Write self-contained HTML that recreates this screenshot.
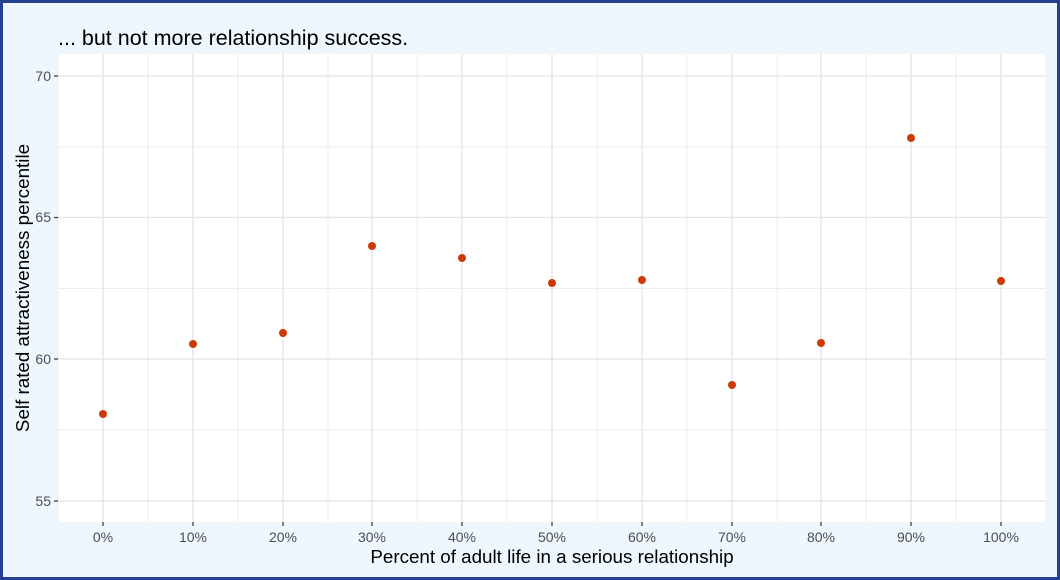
<!DOCTYPE html><html><head><style>body{margin:0}svg{display:block}</style></head><body>
<svg width="1060" height="580" xmlns="http://www.w3.org/2000/svg" font-family="Liberation Sans, sans-serif">
<rect x="0" y="0" width="1060" height="580" fill="#24408E"/>
<rect x="3" y="3" width="1054" height="574" fill="#EEF6FE"/>
<rect x="58" y="54" width="988" height="468" fill="#fff"/>
<g stroke="#ececec" stroke-width="1">
<line x1="58" x2="1046" y1="147" y2="147"/><line x1="58" x2="1046" y1="288.5" y2="288.5"/><line x1="58" x2="1046" y1="430" y2="430"/>
<line x1="148" x2="148" y1="54" y2="522"/><line x1="238" x2="238" y1="54" y2="522"/><line x1="328" x2="328" y1="54" y2="522"/><line x1="417" x2="417" y1="54" y2="522"/><line x1="507" x2="507" y1="54" y2="522"/><line x1="597" x2="597" y1="54" y2="522"/><line x1="687" x2="687" y1="54" y2="522"/><line x1="777" x2="777" y1="54" y2="522"/><line x1="866" x2="866" y1="54" y2="522"/><line x1="956" x2="956" y1="54" y2="522"/><line x1="1046" x2="1046" y1="54" y2="522"/><line x1="58" x2="58" y1="54" y2="522"/>
</g>
<g stroke="#e3e3e3" stroke-width="1.3">
<line x1="58" x2="1046" y1="76" y2="76"/><line x1="58" x2="1046" y1="217.5" y2="217.5"/><line x1="58" x2="1046" y1="359" y2="359"/><line x1="58" x2="1046" y1="501" y2="501"/>
<line x1="103" x2="103" y1="54" y2="522"/><line x1="193" x2="193" y1="54" y2="522"/><line x1="283" x2="283" y1="54" y2="522"/><line x1="372" x2="372" y1="54" y2="522"/><line x1="462" x2="462" y1="54" y2="522"/><line x1="552" x2="552" y1="54" y2="522"/><line x1="642" x2="642" y1="54" y2="522"/><line x1="732" x2="732" y1="54" y2="522"/><line x1="821" x2="821" y1="54" y2="522"/><line x1="911" x2="911" y1="54" y2="522"/><line x1="1001" x2="1001" y1="54" y2="522"/>
</g>
<g stroke="#333" stroke-width="1.2">
<line x1="54" x2="58" y1="76" y2="76"/><line x1="54" x2="58" y1="217.5" y2="217.5"/><line x1="54" x2="58" y1="359" y2="359"/><line x1="54" x2="58" y1="501" y2="501"/>
<line x1="103" x2="103" y1="522" y2="526"/><line x1="193" x2="193" y1="522" y2="526"/><line x1="283" x2="283" y1="522" y2="526"/><line x1="372" x2="372" y1="522" y2="526"/><line x1="462" x2="462" y1="522" y2="526"/><line x1="552" x2="552" y1="522" y2="526"/><line x1="642" x2="642" y1="522" y2="526"/><line x1="732" x2="732" y1="522" y2="526"/><line x1="821" x2="821" y1="522" y2="526"/><line x1="911" x2="911" y1="522" y2="526"/><line x1="1001" x2="1001" y1="522" y2="526"/>
</g>
<g fill="#4d4d4d" font-size="14" text-anchor="end">
<text x="51" y="81">70</text><text x="51" y="222">65</text><text x="51" y="364">60</text><text x="51" y="506">55</text>
</g>
<g fill="#4d4d4d" font-size="14" text-anchor="middle">
<text x="103" y="542">0%</text><text x="193" y="542">10%</text><text x="283" y="542">20%</text><text x="372" y="542">30%</text><text x="462" y="542">40%</text><text x="552" y="542">50%</text><text x="642" y="542">60%</text><text x="732" y="542">70%</text><text x="821" y="542">80%</text><text x="911" y="542">90%</text><text x="1001" y="542">100%</text>
</g>
<text x="552" y="563" font-size="18.8" text-anchor="middle" fill="#000">Percent of adult life in a serious relationship</text>
<text transform="translate(29,288) rotate(-90)" font-size="18.8" text-anchor="middle" fill="#000">Self rated attractiveness percentile</text>
<text x="58" y="45" font-size="21.5" fill="#000">... but not more relationship success.</text>
<g fill="#CC3A0A">
<circle cx="103" cy="414" r="4"/><circle cx="193" cy="344" r="4"/><circle cx="283" cy="333" r="4"/><circle cx="372" cy="246" r="4"/><circle cx="462" cy="258" r="4"/><circle cx="552" cy="283" r="4"/><circle cx="642" cy="280" r="4"/><circle cx="732" cy="385" r="4"/><circle cx="821" cy="343" r="4"/><circle cx="911" cy="138" r="4"/><circle cx="1001" cy="281" r="4"/>
</g>
</svg></body></html>
